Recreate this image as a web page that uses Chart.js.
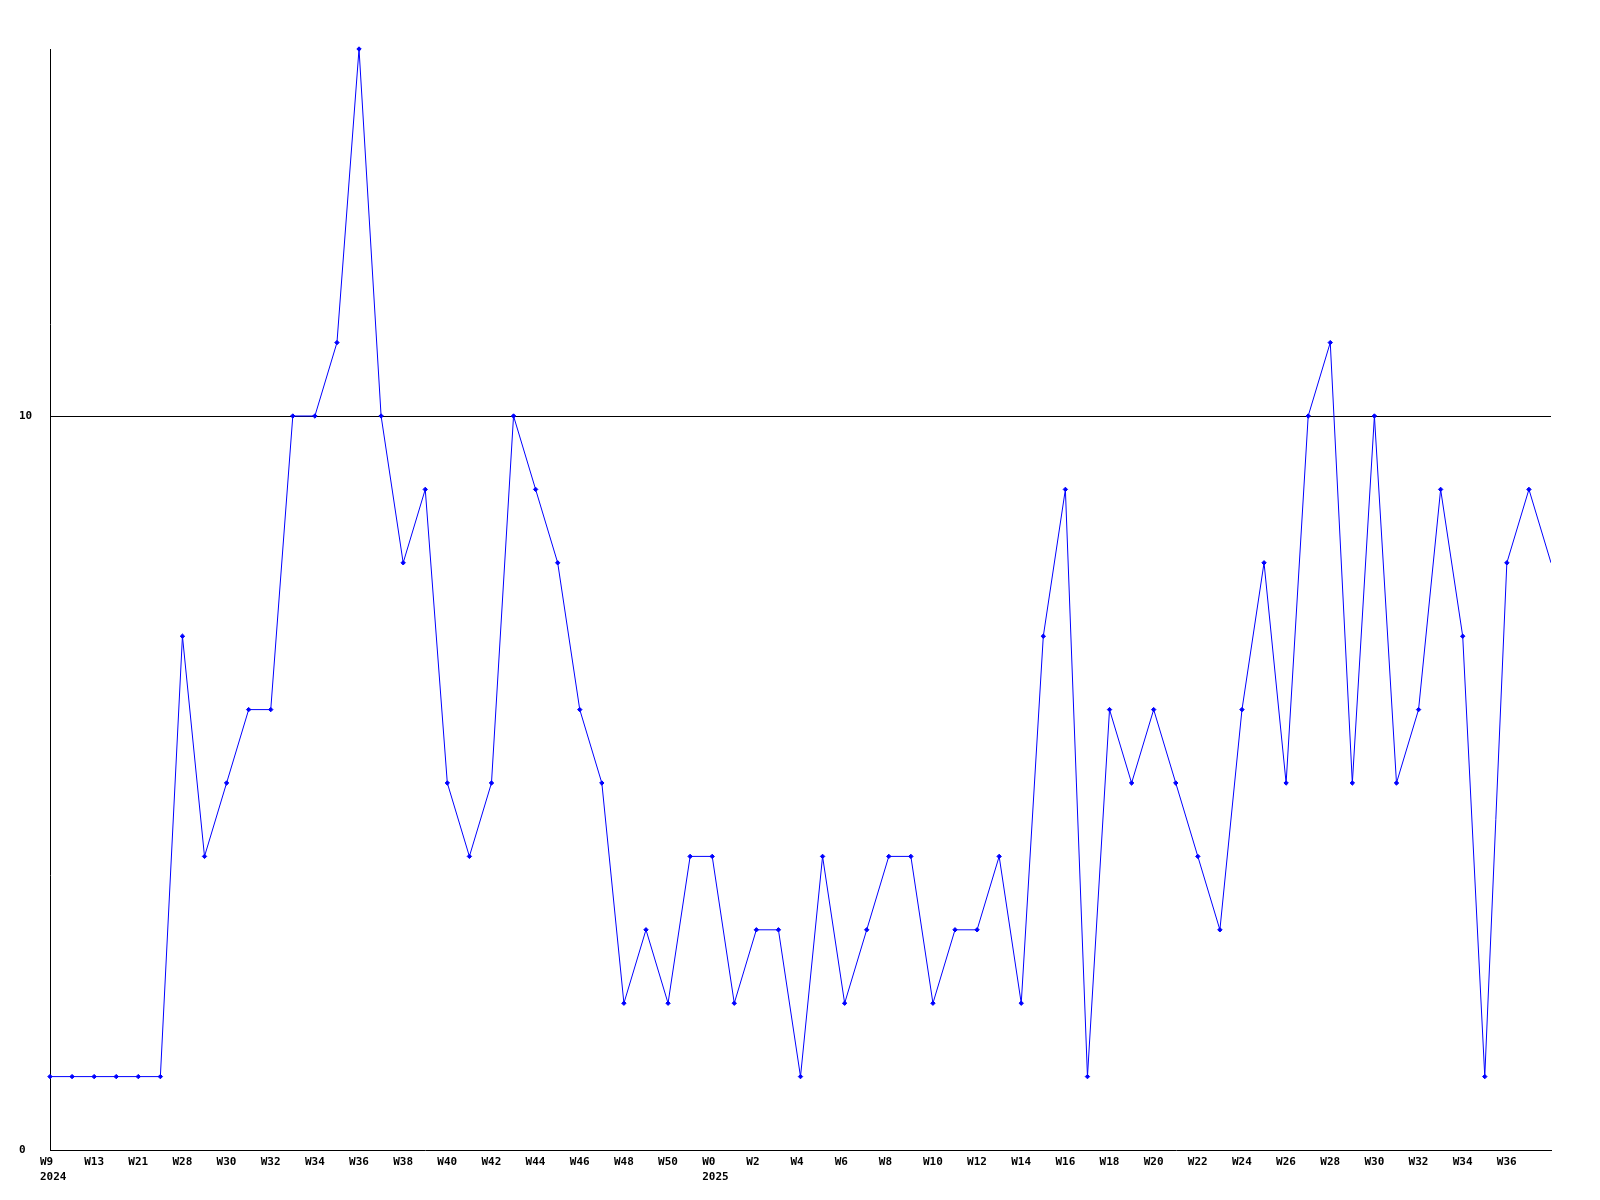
<!DOCTYPE html>
<html>
<head>
<meta charset="utf-8">
<script src="https://cdn.jsdelivr.net/npm/chart.js@4/dist/chart.umd.min.js"></script>
<style>
html,body{margin:0;padding:0;background:#fff;}
#wrap{width:1600px;height:1200px;}
</style>
</head>
<body>
<div id="wrap"><canvas id="c" width="1600" height="1200"></canvas></div>
<script>
const weeks = ["W9","W11","W13","W17","W21","W26","W28","W29","W30","W31","W32","W33","W34","W35","W36","W37","W38","W39","W40","W41","W42","W43","W44","W45","W46","W47","W48","W49","W50","W51",
"W0","W1","W2","W3","W4","W5","W6","W7","W8","W9","W10","W11","W12","W13","W14","W15","W16","W17","W18","W19","W20","W21","W22","W23","W24","W25","W26","W27","W28","W29","W30","W31","W32","W33","W34","W35","W36","W37","W38"];
const yearLabels = {0:"2024", 30:"2025"};
const values = [1,1,1,1,1,1,7,4,5,6,6,10,10,11,15,10,8,9,5,4,5,10,9,8,6,5,2,3,2,4,
4,2,3,3,1,4,2,3,4,4,2,3,3,4,2,7,9,1,6,5,6,5,4,3,6,8,5,10,11,5,10,5,6,9,7,1,8,9,8];
const yTickValues = [0,10];
const yMax = 15;

const labels = weeks.map((w,i)=> yearLabels[i] ? [w, yearLabels[i]] : w);
const lastIdx = values.length - 1;
const radii = values.map((v,i)=> i === lastIdx ? 0 : 2.2);

const font = {family:"'DejaVu Sans Mono', monospace", size:11, weight:'bold', lineHeight:1.4};

new Chart(document.getElementById('c'), {
  type:'line',
  data:{
    labels: labels,
    datasets:[{
      data: values,
      borderColor:'#0000ff',
      backgroundColor:'#0000ff',
      borderWidth:1,
      tension:0,
      pointStyle:'rectRot',
      pointRadius: radii,
      pointHoverRadius: radii,
      pointBorderWidth:1,
      fill:false,
      clip:{left:4,top:4,right:0,bottom:4}
    }]
  },
  options:{
    responsive:false,
    animation:false,
    events:[],
    layout:{padding:{left:19,right:49,top:49,bottom:0}},
    plugins:{legend:{display:false},tooltip:{enabled:false},title:{display:false}},
    scales:{
      x:{
        offset:false,
        border:{display:true,color:'#000',width:1},
        grid:{display:false,drawTicks:false},
        ticks:{
          autoSkip:false,
          maxRotation:0,
          minRotation:0,
          align:'start',
          labelOffset:-10,
          padding:4,
          color:'#000',
          font:font,
          callback:function(val,idx){ return (idx % 2 === 0 && idx !== lastIdx) ? this.getLabelForValue(val) : ''; }
        },
        afterFit:function(s){ s.height = 50; }
      },
      y:{
        min:0,
        max:yMax,
        border:{display:true,color:'#000',width:1},
        grid:{
          drawTicks:false,
          color:(ctx)=> (ctx.tick && ctx.tick.value === 10) ? '#000' : 'rgba(0,0,0,0)',
          lineWidth:1
        },
        afterBuildTicks:function(s){ s.ticks = yTickValues.map(v=>({value:v})); },
        ticks:{
          crossAlign:'far',
          color:'#000',
          font:font
        },
        afterFit:function(s){ s.width = 31; }
      }
    }
  }
});
</script>
</body>
</html>
